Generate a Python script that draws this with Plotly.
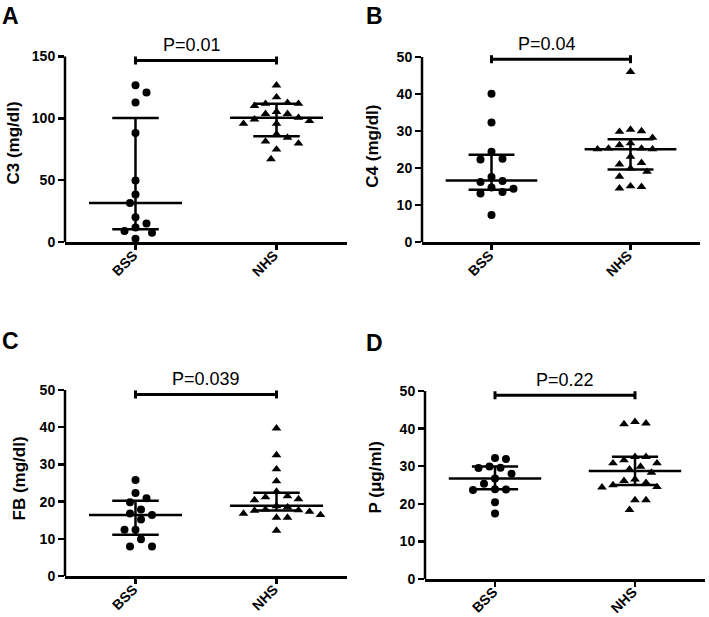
import plotly.graph_objects as go

W, H = 709, 617
FONT = "Liberation Sans, Arial, Helvetica, sans-serif"

# ---------------- data ----------------
categories = ["BSS", "NHS"]
panel_letters = ["A", "B", "C", "D"]
y_titles = ["C3 (mg/dl)", "C4 (mg/dl)", "FB (mg/dl)", "P (μg/ml)"]
y_max = [150, 50, 50, 50]
y_tick_step = [50, 10, 10, 10]
p_labels = ["P=0.01", "P=0.04", "P=0.039", "P=0.22"]
p_bar_level = [146.8, 49.4, 48.8, 48.9]
p_label_x = [0.4, 0.4, 0.5, 0.5]

c3_bss = [126.7, 120.9, 112.8, 88.2, 49.7, 38.5, 31.6, 20.1, 15.0, 11.8, 8.8, 7.5, 2.7]
c3_nhs = [126.7, 117.1, 111.8, 110.1, 111.8, 112.6, 105.3, 103.7, 100.5, 103.7,
          97.9, 95.7, 95.7, 99.2, 87.2, 84.5, 81.3, 79.7, 74.9, 67.1]
c3_median = [31.6, 100.5]
c3_q1 = [10.4, 85.6]
c3_q3 = [100.3, 111.8]

c4_bss = [40.1, 32.3, 24.4, 22.5, 22.3, 17.6, 16.2, 16.5, 14.7, 14.4, 13.5, 13.1, 7.3]
c4_nhs = [46.0, 30.0, 29.8, 30.4, 28.2, 26.7, 26.2, 25.3, 25.1, 25.1,
          25.3, 23.1, 21.0, 21.4, 19.9, 19.0, 17.7, 15.1, 14.5, 14.9]
c4_median = [16.6, 25.1]
c4_q1 = [14.1, 19.6]
c4_q3 = [23.6, 27.8]

fb_bss = [25.8, 22.3, 20.9, 19.8, 17.9, 16.8, 15.2, 16.4, 12.4, 12.4, 9.9, 7.9, 7.9]
fb_nhs = [39.7, 32.5, 28.7, 25.5, 22.7, 21.5, 20.7, 20.4, 21.2, 18.8,
          17.9, 17.6, 16.8, 15.7, 15.7, 16.4, 17.3, 17.7, 18.5, 12.2]
fb_median = [16.4, 18.9]
fb_q1 = [11.1, 17.6]
fb_q3 = [20.2, 22.4]

p_bss = [31.9, 32.2, 29.9, 29.5, 29.6, 28.0, 26.7, 25.3, 23.9, 23.7, 23.8, 20.4, 17.4]
p_nhs = [41.8, 41.2, 41.4, 32.5, 31.6, 32.5, 30.8, 29.9, 30.8, 28.3,
         29.2, 26.5, 25.6, 26.1, 24.5, 24.4, 25.0, 21.0, 21.0, 18.4]
p_median = [26.7, 28.7]
p_q1 = [23.9, 25.0]
p_q3 = [29.9, 32.5]

panels = [
    (c3_bss, c3_nhs, c3_median, c3_q1, c3_q3),
    (c4_bss, c4_nhs, c4_median, c4_q1, c4_q3),
    (fb_bss, fb_nhs, fb_median, fb_q1, fb_q3),
    (p_bss, p_nhs, p_median, p_q1, p_q3),
]

# ---------------- layout geometry (pixels) ----------------
# left, right, y-pixel of 0, y-pixel of y_max
PANEL_PX = [(65, 347, 242, 56.5), (422, 700, 242, 57), (65, 347, 576, 390), (425, 705, 579, 391)]
LETTER_PX = [(0, 1), (364, 1), (0, 326), (364, 328)]
YTITLE_PX = [(13, 143.5), (373, 145.7), (19, 478.5), (375, 477.5)]
TOP_EXT = 1.07
LW = 2.5
TICK_FONT = dict(family=FONT, size=14, color="black", weight="bold")
CAT_FONT = dict(family=FONT, size=14, color="black", weight="bold")


def swarm(values, ppu_y, ppu_x, diam=10.0, step=5.5):
    """Greedy beeswarm: horizontal offsets (category units) so markers don't overlap."""
    order = sorted(range(len(values)), key=lambda i: -values[i])
    placed = []
    offsets = [0.0] * len(values)
    flip = 1
    for i in order:
        y = values[i] * ppu_y
        cands = [0.0]
        for n in range(1, 30):
            cands += [flip * n * step, -flip * n * step]
        for c in cands:
            if all((c - px) ** 2 + (y - py) ** 2 >= diam ** 2 for px, py in placed):
                offsets[i] = c / ppu_x
                placed.append((c, y))
                if c != 0:
                    flip = -1 if c > 0 else 1
                break
    return offsets


fig = go.Figure()
layout = dict(
    width=W, height=H,
    margin=dict(l=0, r=0, t=0, b=0, pad=0, autoexpand=False),
    paper_bgcolor="white", plot_bgcolor="white",
    showlegend=False,
    font=dict(family=FONT, color="black"),
)
annotations = []
shapes = []

for k in range(4):
    n = k + 1
    sfx = "" if n == 1 else str(n)
    xa, ya = "x" + sfx, "y" + sfx
    left, right, y0px, ytpx = PANEL_PX[k]
    ymax = y_max[k]
    ppu_y = (y0px - ytpx) / ymax
    ppu_x = (right - left) / 2.0
    top_val = ymax * TOP_EXT
    top_px = y0px - top_val * ppu_y

    layout["xaxis" + sfx] = dict(
        domain=[left / W, right / W], anchor=ya, range=[-0.5, 1.5], automargin=False,
        showgrid=False, zeroline=False, showline=True, linecolor="black", linewidth=LW,
        ticks="outside", ticklen=5, tickwidth=LW, tickcolor="black",
        tickvals=[0, 1], showticklabels=False, fixedrange=True,
    )
    ticks_y = list(range(0, ymax + 1, y_tick_step[k]))
    layout["yaxis" + sfx] = dict(
        domain=[(H - y0px) / H, (H - top_px) / H], anchor=xa, range=[0, top_val],
        automargin=False,
        showgrid=False, zeroline=False, showline=False,
        ticks="outside", ticklen=6, tickwidth=LW, tickcolor="black",
        tickvals=ticks_y, ticktext=[str(t) for t in ticks_y], tickfont=TICK_FONT,
        fixedrange=True,
    )
    # y axis line only up to the top tick
    shapes.append(dict(type="line", xref="paper", yref=ya, x0=left / W, x1=left / W,
                       y0=0, y1=ymax, line=dict(color="black", width=LW)))

    # rotated category labels
    for c, cat in enumerate(categories):
        annotations.append(dict(
            x=c, y=0, xref=xa, yref=ya, text=cat, showarrow=False, textangle=-45,
            xanchor="right", yanchor="top", xshift=8, yshift=-2, font=CAT_FONT))

    bss, nhs, med, q1, q3 = panels[k]
    off_b = swarm(bss, ppu_y, ppu_x)
    off_n = swarm(nhs, ppu_y, ppu_x)
    fig.add_trace(go.Scatter(
        x=[0 + o for o in off_b], y=bss, mode="markers", xaxis=xa, yaxis=ya,
        marker=dict(symbol="circle", size=8, color="black"), hoverinfo="y"))
    fig.add_trace(go.Scatter(
        x=[1 + o for o in off_n], y=nhs, mode="markers", xaxis=xa, yaxis=ya,
        marker=dict(symbol="triangle-up", size=8.5, color="black", line=dict(width=0)),
        hoverinfo="y"))

    # median with interquartile range
    mw, cw = 0.33, 0.165
    lx, ly = [], []
    for c in range(2):
        lx += [c - mw, c + mw, None, c - cw, c + cw, None, c - cw, c + cw, None, c, c, None]
        ly += [med[c], med[c], None, q1[c], q1[c], None, q3[c], q3[c], None, q1[c], q3[c], None]
    fig.add_trace(go.Scatter(x=lx, y=ly, mode="lines", xaxis=xa, yaxis=ya,
                             line=dict(color="black", width=LW), hoverinfo="skip"))

    # significance bar
    b = p_bar_level[k]
    cap = 4.0 / ppu_y
    fig.add_trace(go.Scatter(
        x=[0, 1, None, 0, 0, None, 1, 1],
        y=[b, b, None, b - cap, b + cap, None, b - cap, b + cap],
        mode="lines", xaxis=xa, yaxis=ya,
        line=dict(color="black", width=3), hoverinfo="skip"))
    annotations.append(dict(
        x=p_label_x[k], y=b, xref=xa, yref=ya, text=p_labels[k], showarrow=False,
        xanchor="center", yanchor="bottom", yshift=3,
        font=dict(family=FONT, size=18, color="black")))

    # y title
    tx, ty = YTITLE_PX[k]
    annotations.append(dict(
        x=tx / W, y=(H - ty) / H, xref="paper", yref="paper", text=y_titles[k],
        showarrow=False, textangle=-90, xanchor="center", yanchor="middle",
        font=dict(family=FONT, size=17, color="black", weight="bold")))

    # panel letter
    lxp, lyp = LETTER_PX[k]
    annotations.append(dict(
        x=lxp / W, y=(H - lyp) / H, xref="paper", yref="paper", text=panel_letters[k],
        showarrow=False, xanchor="left", yanchor="top",
        font=dict(family=FONT, size=23, color="black", weight="bold")))

layout["annotations"] = annotations
layout["shapes"] = shapes
fig.update_layout(**layout)
fig.write_html(
    "out.html",
    config={"displayModeBar": False, "staticPlot": True},
    post_script="document.body.style.margin='0';document.body.style.overflow='hidden';",
)
